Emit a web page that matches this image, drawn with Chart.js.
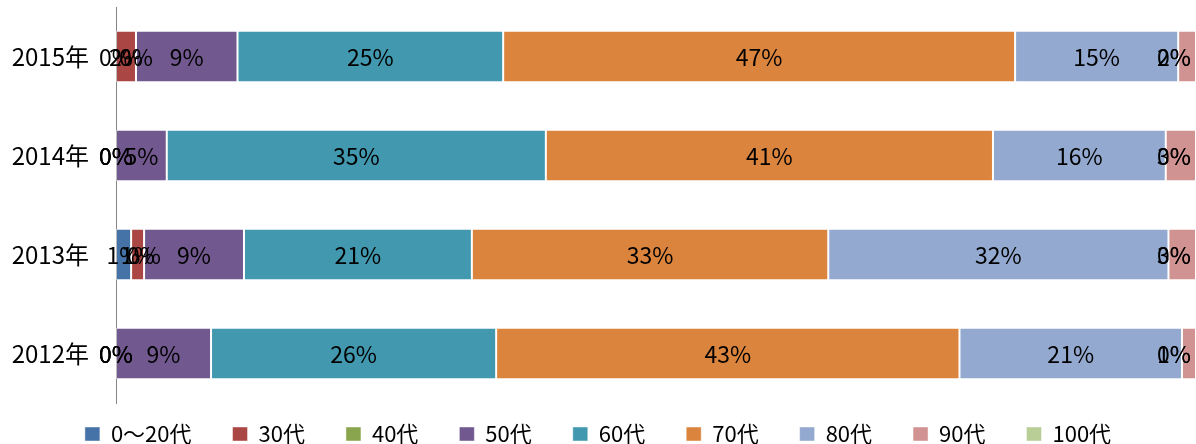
<!DOCTYPE html>
<html>
<head>
<meta charset="utf-8">
<script src="https://cdn.jsdelivr.net/npm/chart.js@4"></script>
<style>
  html, body { margin: 0; padding: 0; background: #fff; }
  #wrap { width: 1196px; height: 444px; }
</style>
</head>
<body>
<div id="wrap"><canvas id="ageChart"></canvas></div>
<script>
// Categories (top to bottom)
const years = ['2015年', '2014年', '2013年', '2012年'];

// Series values, percent per year
const age0to20 = [0, 0, 1.4, 0];
const age30 = [1.85, 0, 1.2, 0];
const age40 = [0, 0, 0, 0];
const age50 = [9.4, 4.7, 9.25, 8.8];
const age60 = [24.6, 35.1, 21.1, 26.4];
const age70 = [47.4, 41.4, 33.0, 42.9];
const age80 = [15.1, 16.0, 31.5, 20.6];
const age90 = [1.65, 2.8, 2.55, 1.3];
const age100 = [0, 0, 0, 0];

const seriesNames = ['0〜20代', '30代', '40代', '50代', '60代', '70代', '80代', '90代', '100代'];
const seriesValues = [age0to20, age30, age40, age50, age60, age70, age80, age90, age100];
const seriesColors = ['#4572A7', '#AA4643', '#89A54E', '#71588F', '#4198AF', '#DB843D', '#93A9CF', '#D19392', '#B9CD96'];

const FONT = '"Noto Sans CJK JP", "Noto Sans", sans-serif';

// Draw a percent label in the middle of every segment (kept inside the canvas like Excel does)
const segmentLabels = {
    id: 'segmentLabels',
    afterDatasetsDraw(chart) {
        const ctx = chart.ctx;
        ctx.save();
        ctx.font = '23px ' + FONT;
        ctx.fillStyle = '#000';
        ctx.textAlign = 'center';
        ctx.textBaseline = 'middle';
        chart.data.datasets.forEach((ds, i) => {
            chart.getDatasetMeta(i).data.forEach((bar, j) => {
                const text = Math.round(ds.data[j]) + '%';
                const w = ctx.measureText(text).width;
                let x = (bar.base + bar.x) / 2;
                if (x + w / 2 > chart.width - 5) x = chart.width - 5 - w / 2;
                ctx.fillText(text, x, bar.y + 1);
            });
        });
        ctx.restore();
    }
};

// Legend keeps wide gaps between items but sits low under the plot
const legendShift = {
    id: 'legendShift',
    afterLayout(chart) {
        chart.legend.top -= 21;
    }
};

const ctx = document.getElementById('ageChart').getContext('2d');
const chart = new Chart(ctx, {
    type: 'bar',
    data: {
        labels: years,
        datasets: seriesNames.map((name, i) => ({
            label: name,
            data: seriesValues[i],
            backgroundColor: seriesColors[i],
            borderColor: 'rgba(255,255,255,0.45)',
            borderWidth: 1,
            borderSkipped: false,
            categoryPercentage: 1,
            barPercentage: 0.52
        }))
    },
    options: {
        indexAxis: 'y',
        responsive: true,
        maintainAspectRatio: false,
        animation: false,
        layout: { padding: { top: 7, right: 0, left: 0, bottom: 0 } },
        plugins: {
            legend: {
                position: 'bottom',
                maxHeight: 41,
                labels: {
                    font: { family: FONT, size: 22 },
                    color: '#000',
                    boxWidth: 15,
                    boxHeight: 14,
                    padding: 41
                }
            },
            tooltip: { enabled: false }
        },
        scales: {
            x: {
                stacked: true,
                min: 0,
                max: 100,
                display: false
            },
            y: {
                stacked: true,
                grid: { display: false },
                border: { display: true, color: '#868686', width: 1 },
                ticks: {
                    font: { family: FONT, size: 24 },
                    color: '#000',
                    padding: 19
                },
                afterFit: (scale) => {
                    scale.width = 116;
                    scale.paddingTop = 0;
                    scale.paddingBottom = 0;
                }
            }
        }
    },
    plugins: [segmentLabels, legendShift]
});
</script>
</body>
</html>
